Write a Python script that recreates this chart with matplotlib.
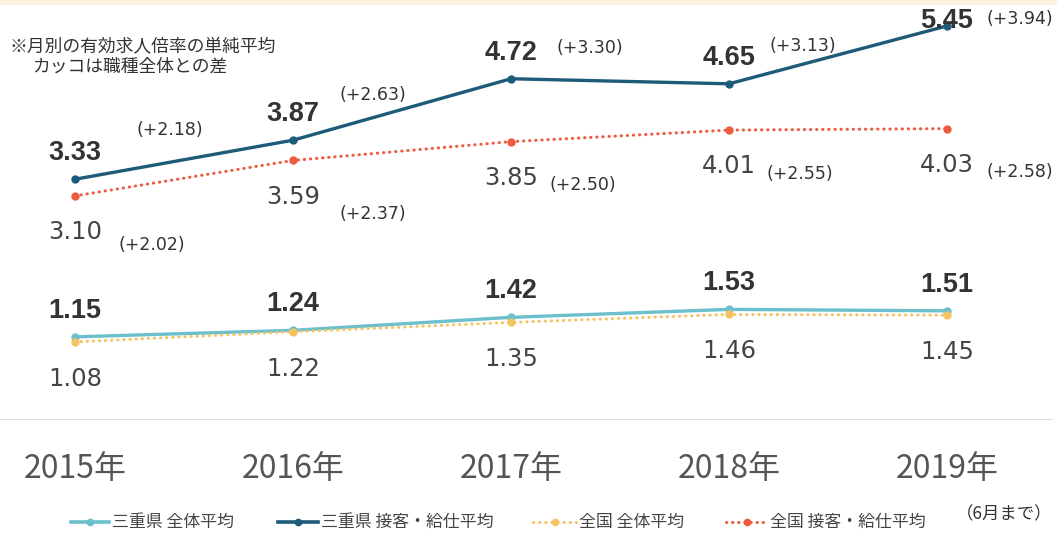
import matplotlib
matplotlib.use('Agg')
import matplotlib.pyplot as plt
from matplotlib.lines import Line2D
from matplotlib.patches import Rectangle

# データ
years = ['2015年', '2016年', '2017年', '2018年', '2019年']
mie_all = [1.15, 1.24, 1.42, 1.53, 1.51]
mie_service = [3.33, 3.87, 4.72, 4.65, 5.45]
zenkoku_all = [1.08, 1.22, 1.35, 1.46, 1.45]
zenkoku_service = [3.10, 3.59, 3.85, 4.01, 4.03]
mie_diff = ['(+2.18)', '(+2.63)', '(+3.30)', '(+3.13)', '(+3.94)']
zenkoku_diff = ['(+2.02)', '(+2.37)', '(+2.50)', '(+2.55)', '(+2.58)']
legend_labels = ['三重県 全体平均', '三重県 接客・給仕平均', '全国 全体平均', '全国 接客・給仕平均']

c_mie_all = '#6cbfcc'
c_mie_srv = '#1d5b79'
c_zen_all = '#f5c462'
c_zen_srv = '#ee5a3e'

JP = ['Noto Sans CJK JP', 'DejaVu Sans']
BOLD = ['Liberation Sans', 'DejaVu Sans']
DOT = (0, (0.1, 1.9))

W, H = 1057, 535
fig = plt.figure(figsize=(W / 100, H / 100), dpi=100)
fig.patches.append(Rectangle((0, 1 - 5 / H), 1, 5 / H, transform=fig.transFigure,
                             facecolor='#fdf2e2', edgecolor='none'))

ax = fig.add_axes([0, 115 / H, 1, 420 / H])
x = list(range(len(years)))

ax.plot(x, mie_all, color=c_mie_all, lw=2.4, marker='o', ms=5)
ax.plot(x, mie_service, color=c_mie_srv, lw=2.4, marker='o', ms=5)
ax.plot(x, zenkoku_all, color=c_zen_all, lw=2.2, ls=DOT, marker='o', ms=5, dash_capstyle='round')
ax.plot(x, zenkoku_service, color=c_zen_srv, lw=2.2, ls=DOT, marker='o', ms=5, dash_capstyle='round')

ax.set_xlim(-0.344, 4.505)
ax.set_ylim(0, 420 / 72.3)
ax.axhline(0, color='#d9d9d9', lw=1.2, xmax=0.995)
for s in ax.spines.values():
    s.set_visible(False)
ax.set_yticks([])
ax.set_xticks(x)
ax.set_xticklabels(years, family=JP, fontsize=23, color='#555555')
ax.tick_params(axis='x', length=0, pad=24)

# 太字ラベル（三重県）
for i in x:
    ax.text(i, min(mie_service[i] + 0.36, 5.52), f'{mie_service[i]:.2f}', ha='center', va='center',
            family=BOLD, fontweight='bold', fontsize=19.5, color='#333333')
    ax.text(i, mie_all[i] + 0.36, f'{mie_all[i]:.2f}', ha='center', va='center',
            family=BOLD, fontweight='bold', fontsize=19.5, color='#333333')

# 通常ラベル（全国）
for i in x:
    ax.text(i, zenkoku_service[i] - 0.5, f'{zenkoku_service[i]:.2f}', ha='center', va='center',
            fontsize=17.5, color='#444444')
    ax.text(i, zenkoku_all[i] - 0.51, f'{zenkoku_all[i]:.2f}', ha='center', va='center',
            fontsize=17.5, color='#444444')

# カッコ内の差（ピクセル単位のずらし量）
mie_off = [(95, 49), (80, 45), (79, 31), (74, 38), (73, 7)]
zen_off = [(77, -49), (80, -54), (72, -43), (71, -44), (73, -43)]
for i in x:
    ax.annotate(mie_diff[i], (i, mie_service[i]), xytext=(mie_off[i][0] * 0.72, mie_off[i][1] * 0.72),
                textcoords='offset points', ha='center', va='center', fontsize=12.5, color='#333333')
    ax.annotate(zenkoku_diff[i], (i, zenkoku_service[i]),
                xytext=(zen_off[i][0] * 0.72, zen_off[i][1] * 0.72),
                textcoords='offset points', ha='center', va='center', fontsize=12.5, color='#333333')

fig.text(10 / W, 1 - 46 / H, '※月別の有効求人倍率の単純平均', family=JP, fontsize=12.8,
         color='#333333', va='center', ha='left')
fig.text(32 / W, 1 - 67 / H, 'カッコは職種全体との差', family=JP, fontsize=12.8,
         color='#333333', va='center', ha='left')

# 凡例（手描き）
styles = [
    dict(color=c_mie_all, lw=2.6, ls='-'),
    dict(color=c_mie_srv, lw=2.6, ls='-'),
    dict(color=c_zen_all, lw=2.2, ls=DOT, dash_capstyle='round'),
    dict(color=c_zen_srv, lw=2.2, ls=DOT, dash_capstyle='round'),
]
handle_x = [(71, 109), (278, 318), (533, 576), (726, 767)]
ly = 1 - 522 / H
for (x0, x1), st, lab in zip(handle_x, styles, legend_labels):
    fig.add_artist(Line2D([x0 / W, x1 / W], [ly, ly], transform=fig.transFigure, **st))
    fig.add_artist(Line2D([(x0 + x1) / 2 / W], [ly], transform=fig.transFigure, marker='o', ms=4.5,
                          color=st['color'], ls='none'))
    fig.text((x1 + 3) / W, ly, lab, family=JP, fontsize=12.2, color='#444444', va='center', ha='left')

fig.text(1004 / W, 1 - 514 / H, '（6月まで）', family=JP, fontsize=12.5, color='#333333',
         ha='center', va='center')

fig.savefig('out.png', dpi=100, facecolor='white')
